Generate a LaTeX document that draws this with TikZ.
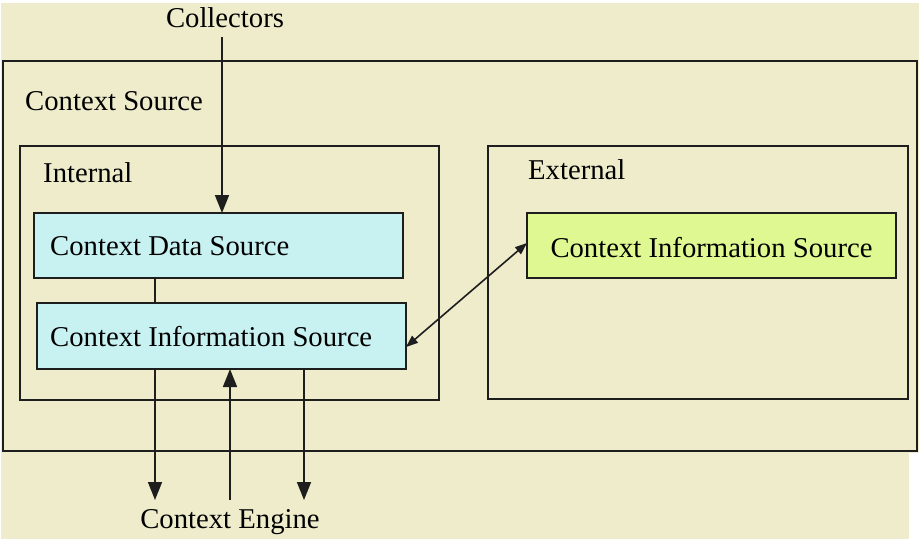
\documentclass[tikz,border=0pt]{standalone}
\usepackage{fontspec}
\setmainfont{Liberation Serif}
\usetikzlibrary{arrows.meta,calc}
\definecolor{paper}{HTML}{EEECCB}
\definecolor{cyanbox}{HTML}{C8F1F1}
\definecolor{limebox}{HTML}{E0F892}
\definecolor{edge}{HTML}{1E1E1E}
\tikzset{
  txt/.style={font=\fontsize{28.7}{34}\selectfont, inner sep=0pt},
  frame/.style={draw=edge, line width=1.6pt},
  srcbox/.style={draw=edge, line width=2pt, inner sep=0pt, anchor=north west},
  conn/.style={draw=edge, line width=1.6pt},
  tip/.style={-{Triangle[length=18pt,width=14pt]}},
  twotip/.style={{Triangle[length=12pt,width=9pt]}-{Triangle[length=12pt,width=9pt]}},
}
\begin{document}
\begin{tikzpicture}[x=1pt,y=-1pt]
  % canvas
  \useasboundingbox (0,0) rectangle (919,539);
  \fill[paper] (1,3) rectangle (919,539);
  \fill[white] (909,453) rectangle (919,539);

  % Context Source frame
  \draw[draw=edge, line width=2.6pt] (3,61) rectangle (917,451);
  \node[txt, anchor=west] (cslabel) at (25,101) {Context Source};

  % Internal part
  \draw[frame] (20,146) rectangle (439,400);
  \node[txt, anchor=west] (intlabel) at (43,173) {Internal};
  \path[srcbox, fill=cyanbox] (34,213) rectangle (403,278);
  \node[txt, anchor=west] (cds) at (50,246) {Context Data Source};
  \coordinate (cdsTop) at (222,213);
  \coordinate (cdsBot) at (155,278);
  \path[srcbox, fill=cyanbox] (37,303) rectangle (406,369);
  \node[txt, anchor=west] (cis) at (50,336.5) {Context Information Source};
  \coordinate (cisTop) at (155,303);
  \coordinate (cisRight) at (406,347);
  \coordinate (cisB1) at (155,369);
  \coordinate (cisB2) at (230,369);
  \coordinate (cisB3) at (304,369);

  % External part
  \draw[frame] (488,146) rectangle (908,399);
  \node[txt, anchor=west] (extlabel) at (528,170) {External};
  \path[srcbox, fill=limebox] (527,213) rectangle (896,278);
  \node[txt] (ecis) at (711.5,247.5) {Context Information Source};
  \coordinate (ecisLeft) at (527,243);

  % outside actors
  \node[txt] (collectors) at (225,18) {Collectors};
  \coordinate (colEnd) at (222,37);
  \node[txt] (engine) at (230,522.5) {Context Engine};
  \coordinate (eng1) at (155,500);
  \coordinate (eng2) at (230,500);
  \coordinate (eng3) at (304,500);

  % connectors
  \draw[conn, tip] (colEnd) -- (cdsTop);
  \draw[conn] (cdsBot) -- (cisTop);
  \draw[conn, twotip] (cisRight) -- (ecisLeft);
  \draw[conn, tip] (cisB1) -- (eng1);
  \draw[conn, tip] (eng2) -- (cisB2);
  \draw[conn, tip] (cisB3) -- (eng3);
\end{tikzpicture}
\end{document}
